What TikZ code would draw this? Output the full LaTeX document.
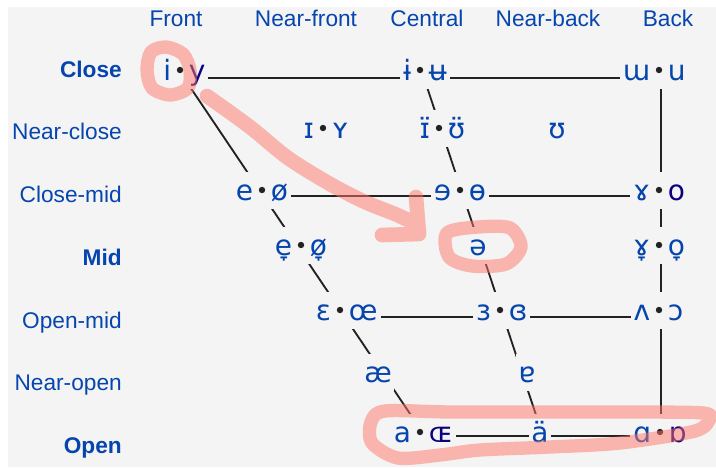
\documentclass[tikz,border=0pt]{standalone}
\usepackage{fontspec}
\setmainfont{Liberation Sans}
\newfontfamily\ipafont{DejaVu Sans}
\usetikzlibrary{fit}
\definecolor{bg}{HTML}{F4F4F4}
\definecolor{lnk}{HTML}{0645AD}
\definecolor{vis}{HTML}{0B0080}
\definecolor{ink}{HTML}{222222}
\definecolor{marker}{RGB}{254,118,104}
\pgfdeclarelayer{back}
\pgfdeclarelayer{lines}
\pgfdeclarelayer{fills}
\pgfsetlayers{back,lines,fills,main}
\tikzset{
  lbl/.style={font=\fontsize{17}{20}\selectfont, text=lnk, inner sep=0pt},
  hdr/.style={lbl, anchor=base},
  rowlbl/.style={lbl, anchor=base east},
  vw/.style={font=\ipafont\fontsize{21}{24}\selectfont, text=lnk, fill=bg,
    inner xsep=2pt, inner ysep=0pt, text height=21pt, text depth=6.5pt},
  ln/.style={draw=ink, line width=1.4pt},
  hl/.style={draw=marker, draw opacity=0.5, line width=10pt, line cap=round, line join=round}
}
\newcommand\vpair[5]{%
  \node[vw, anchor=base east] (#1L) at (#2-6,#3) {#4};
  \node[vw, anchor=base west] (#1R) at (#2+6,#3) {#5};
  \begin{pgfonlayer}{fills}
    \node[fit=(#1L)(#1R), fill=bg, inner sep=0pt] (#1) {};
  \end{pgfonlayer}
  \fill[ink] (#2,#3-10) circle (2.4pt);
}
\begin{document}
\begin{tikzpicture}[x=0.75pt,y=-0.75pt]
\useasboundingbox (0,0) rectangle (716,467);
\begin{pgfonlayer}{back}
  \fill[white] (0,0) rectangle (716,467);
  \fill[bg] (8,7) rectangle (716,467);
\end{pgfonlayer}

% column headers
\node[hdr] (hF)  at (176,27) {Front};
\node[hdr] (hNF) at (306,27) {Near-front};
\node[hdr] (hC)  at (427,27) {Central};
\node[hdr] (hNB) at (548,27) {Near-back};
\node[hdr] (hB)  at (668,27) {Back};

% row labels
\node[rowlbl] (rClose) at (122,77)  {\bfseries Close};
\node[rowlbl] (rNC)    at (122,139) {Near-close};
\node[rowlbl] (rCM)    at (122,202) {Close-mid};
\node[rowlbl] (rMid)   at (122,265) {\bfseries Mid};
\node[rowlbl] (rOM)    at (122,328) {Open-mid};
\node[rowlbl] (rNO)    at (122,390) {Near-open};
\node[rowlbl] (rOpen)  at (122,453) {\bfseries Open};

% trapezoid corners
\coordinate (FC)  at (184,78);
\coordinate (CC)  at (424,78);
\coordinate (BC)  at (661,78);
\coordinate (FCM) at (263,196);
\coordinate (BCM) at (661,196);
\coordinate (FOM) at (345,317);
\coordinate (BOM) at (661,317);
\coordinate (FO)  at (425,436);
\coordinate (CO)  at (543,436);
\coordinate (BO)  at (661,436);

\begin{pgfonlayer}{lines}
  \draw[ln] (FC) -- (BC);
  \draw[ln] (FCM) -- (BCM);
  \draw[ln] (FOM) -- (BOM);
  \draw[ln] (FO) -- (BO);
  \draw[ln] (FC) -- (FO);
  \draw[ln] (CC) -- (CO);
  \draw[ln] (BC) -- (BO);
\end{pgfonlayer}

% vowels
\vpair{iy}{180}{80}{i}{\color{vis}y}
\vpair{iu}{420}{80}{ɨ}{ʉ}
\vpair{wu}{659}{80}{ɯ}{u}
\vpair{IY}{323}{138}{ɪ}{ʏ}
\vpair{IUc}{439}{138}{ɪ̈}{ʊ̈}
\node[vw, anchor=base] (U) at (557,138) {ʊ};
\vpair{eo}{262}{200}{e}{ø}
\vpair{eth}{460}{200}{ɘ}{ɵ}
\vpair{ro}{659}{200}{ɤ}{\color{vis}o}
\vpair{emid}{301}{255}{e̞}{ø̞}
\node[vw, anchor=base] (schwa) at (478,255) {ə};
\vpair{romid}{659}{255}{ɤ̞}{o̞}
\vpair{Eoe}{340}{320}{ɛ}{œ}
\vpair{rev}{500}{320}{ɜ}{ɞ}
\vpair{Vc}{659}{320}{ʌ}{ɔ}
\node[vw, anchor=base] (ae) at (378,382) {æ};
\node[vw, anchor=base] (turna) at (527,382) {ɐ};
\vpair{aoe}{420}{442}{a}{\color{vis}ɶ}
\node[vw, anchor=base] (auml) at (540,442) {ä};
\vpair{ao}{660}{442}{ɑ}{\color{vis}ɒ}

% pink annotations
\draw[hl] plot[smooth cycle] coordinates {(147,70) (151,52) (166,47) (183,54) (190,70) (188,88) (170,95) (152,88)};
\draw[hl, line width=11pt] plot[smooth] coordinates {(207,96) (250,127) (288,158) (330,184) (365,202) (395,214) (410,221)}
  (416,197) -- (419,234) -- (382,235);
\draw[hl] plot[smooth cycle] coordinates {(447,233) (478,227) (510,228) (521,247) (506,264) (472,266) (449,257)};
\draw[hl] plot[smooth cycle] coordinates {(385,411) (450,412) (550,412) (650,412) (703,413) (710,418) (695,431) (620,443) (550,447) (480,450) (440,455) (398,458) (372,443) (371,422)};
\end{tikzpicture}
\end{document}
